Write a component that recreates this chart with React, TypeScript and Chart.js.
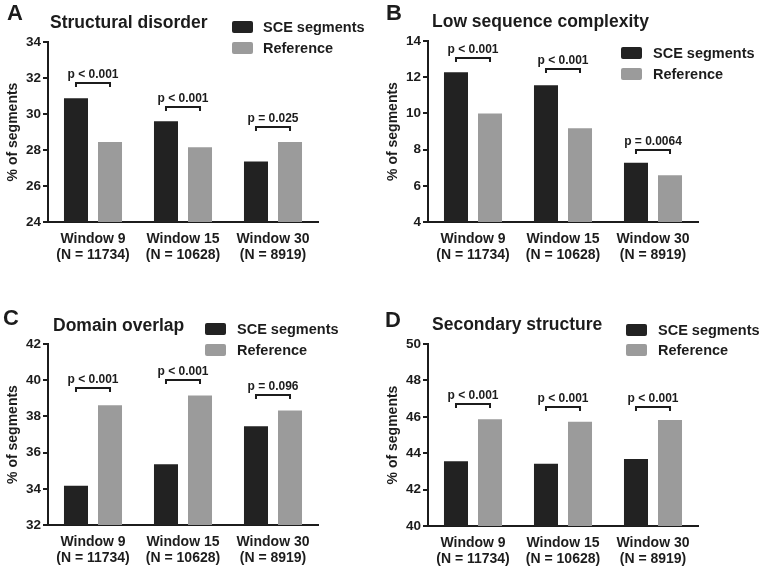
import React, { useEffect, useRef } from "react";
import { Chart, registerables } from "chart.js";

Chart.register(...registerables);

// ---------- data ----------
const categories = [
  ["Window 9", "(N = 11734)"],
  ["Window 15", "(N = 10628)"],
  ["Window 30", "(N = 8919)"],
];
const seriesNames = ["SCE segments", "Reference"];

const disorderSce = [30.87, 29.6, 27.36];
const disorderRef = [28.44, 28.15, 28.44];
const disorderP = ["p < 0.001", "p < 0.001", "p = 0.025"];
const disorderBracket = [31.72, 30.39, 29.28];

const complexitySce = [12.28, 11.55, 7.28];
const complexityRef = [10.0, 9.18, 6.58];
const complexityP = ["p < 0.001", "p < 0.001", "p = 0.0064"];
const complexityBracket = [13.08, 12.43, 7.97];

const domainSce = [34.17, 35.36, 37.45];
const domainRef = [38.62, 39.15, 38.32];
const domainP = ["p < 0.001", "p < 0.001", "p = 0.096"];
const domainBracket = [39.59, 40.02, 39.19];

const secondarySce = [43.56, 43.42, 43.68];
const secondaryRef = [45.86, 45.73, 45.82];
const secondaryP = ["p < 0.001", "p < 0.001", "p < 0.001"];
const secondaryBracket = [46.72, 46.54, 46.54];

// ---------- styles ----------
const FONT = '"Liberation Sans", Arial, Helvetica, sans-serif';
const DARK = "#222222";
const GRAY = "#9b9b9b";
const INK = "#1c1c1c";

type Panel = {
  letter: string;
  title: string;
  sce: number[];
  ref: number[];
  pLabels: string[];
  brackets: number[];
  yMin: number;
  yMax: number;
  box: { left: number; top: number; width: number; height: number };
  area: { left: number; right: number; top: number; bottom: number };
  letterPos: [number, number];
  titlePos: [number, number];
  legend: { x: number; y1: number; y2: number; tx: number };
};

const panels: Panel[] = [
  {
    letter: "A",
    title: "Structural disorder",
    sce: disorderSce,
    ref: disorderRef,
    pLabels: disorderP,
    brackets: disorderBracket,
    yMin: 24,
    yMax: 34,
    box: { left: 0, top: 0, width: 380, height: 283 },
    area: { left: 48, right: 318, top: 42, bottom: 222 },
    letterPos: [7, 20],
    titlePos: [50, 28],
    legend: { x: 232, y1: 21, y2: 42, tx: 263 },
  },
  {
    letter: "B",
    title: "Low sequence complexity",
    sce: complexitySce,
    ref: complexityRef,
    pLabels: complexityP,
    brackets: complexityBracket,
    yMin: 4,
    yMax: 14,
    box: { left: 380, top: 0, width: 385, height: 283 },
    area: { left: 48, right: 318, top: 41, bottom: 222 },
    letterPos: [6, 20],
    titlePos: [52, 27],
    legend: { x: 241, y1: 47, y2: 68, tx: 273 },
  },
  {
    letter: "C",
    title: "Domain overlap",
    sce: domainSce,
    ref: domainRef,
    pLabels: domainP,
    brackets: domainBracket,
    yMin: 32,
    yMax: 42,
    box: { left: 0, top: 283, width: 380, height: 284 },
    area: { left: 48, right: 318, top: 61, bottom: 242 },
    letterPos: [3, 42],
    titlePos: [53, 48],
    legend: { x: 205, y1: 40, y2: 61, tx: 237 },
  },
  {
    letter: "D",
    title: "Secondary structure",
    sce: secondarySce,
    ref: secondaryRef,
    pLabels: secondaryP,
    brackets: secondaryBracket,
    yMin: 40,
    yMax: 50,
    box: { left: 380, top: 283, width: 385, height: 284 },
    area: { left: 48, right: 318, top: 61, bottom: 243 },
    letterPos: [5, 44],
    titlePos: [52, 47],
    legend: { x: 246, y1: 41, y2: 61, tx: 278 },
  },
];

const decorPlugin = {
  id: "decor",
  afterDraw(chart: any, _args: any, opts: any) {
    const p: Panel = opts.panel;
    if (!p) return;
    const ctx = chart.ctx as CanvasRenderingContext2D;
    ctx.save();
    ctx.fillStyle = INK;
    ctx.textAlign = "left";
    ctx.textBaseline = "alphabetic";
    // panel letter
    ctx.font = `bold 22px ${FONT}`;
    ctx.fillText(p.letter, p.letterPos[0], p.letterPos[1]);
    // title
    ctx.font = `bold 17.5px ${FONT}`;
    ctx.fillText(p.title, p.titlePos[0], p.titlePos[1]);
    // legend
    const colors = [DARK, GRAY];
    const ys = [p.legend.y1, p.legend.y2];
    ctx.font = `bold 14.5px ${FONT}`;
    ctx.textBaseline = "middle";
    for (let i = 0; i < 2; i++) {
      ctx.fillStyle = colors[i];
      ctx.beginPath();
      if ((ctx as any).roundRect) (ctx as any).roundRect(p.legend.x, ys[i], 21, 12, 2);
      else ctx.rect(p.legend.x, ys[i], 21, 12);
      ctx.fill();
      ctx.fillStyle = INK;
      ctx.fillText(seriesNames[i], p.legend.tx, ys[i] + 6.5);
    }
    // significance brackets
    const m0 = chart.getDatasetMeta(0);
    const m1 = chart.getDatasetMeta(1);
    const yScale = chart.scales.y;
    ctx.strokeStyle = INK;
    ctx.lineWidth = 2;
    ctx.font = `bold 12px ${FONT}`;
    ctx.textAlign = "center";
    ctx.textBaseline = "alphabetic";
    for (let j = 0; j < p.brackets.length; j++) {
      const x1 = m0.data[j].x;
      const x2 = m1.data[j].x;
      const y = Math.round(yScale.getPixelForValue(p.brackets[j]));
      ctx.beginPath();
      ctx.moveTo(x1, y + 4);
      ctx.lineTo(x1, y);
      ctx.lineTo(x2, y);
      ctx.lineTo(x2, y + 4);
      ctx.stroke();
      ctx.fillText(p.pLabels[j], (x1 + x2) / 2, y - 5);
    }
    ctx.restore();
  },
};

function PanelChart({ panel }: { panel: Panel }) {
  const ref = useRef<HTMLCanvasElement | null>(null);
  useEffect(() => {
    if (!ref.current) return;
    const { box, area } = panel;
    const chart = new Chart(ref.current, {
      type: "bar",
      data: {
        labels: categories,
        datasets: [
          {
            label: seriesNames[0],
            data: panel.sce,
            backgroundColor: DARK,
            borderWidth: 0,
            barPercentage: 0.706,
            categoryPercentage: 0.756,
          },
          {
            label: seriesNames[1],
            data: panel.ref,
            backgroundColor: GRAY,
            borderWidth: 0,
            barPercentage: 0.706,
            categoryPercentage: 0.756,
          },
        ],
      },
      options: {
        responsive: false,
        animation: false,
        devicePixelRatio: 1,
        layout: {
          padding: { left: 0, top: area.top, right: box.width - area.right, bottom: 0 },
        },
        plugins: {
          legend: { display: false },
          tooltip: { enabled: false },
          title: { display: false },
          decor: { panel },
        } as any,
        scales: {
          x: {
            afterFit: (s: any) => {
              s.height = box.height - area.bottom;
            },
            grid: { display: false },
            border: { display: true, color: INK, width: 2 },
            ticks: {
              color: INK,
              font: { family: FONT, size: 14, weight: "bold", lineHeight: 1.08 },
              padding: 2,
              maxRotation: 0,
              autoSkip: false,
            },
          },
          y: {
            min: panel.yMin,
            max: panel.yMax,
            afterFit: (s: any) => {
              s.width = area.left;
            },
            border: { display: true, color: INK, width: 2 },
            grid: {
              drawOnChartArea: false,
              drawTicks: true,
              tickLength: 5,
              color: INK,
              lineWidth: 2,
            },
            ticks: {
              stepSize: 2,
              color: INK,
              font: { family: FONT, size: 13.5, weight: "bold" },
              padding: 2,
            },
            title: {
              display: true,
              text: "% of segments",
              color: INK,
              font: { family: FONT, size: 14, weight: "bold" },
              padding: { top: 5, bottom: 0 },
            },
          },
        },
      },
      plugins: [decorPlugin],
    });
    return () => chart.destroy();
  }, [panel]);
  const { box } = panel;
  return (
    <canvas
      ref={ref}
      width={box.width}
      height={box.height}
      style={{
        position: "absolute",
        left: box.left,
        top: box.top,
        width: box.width,
        height: box.height,
      }}
    />
  );
}

export default function App() {
  return (
    <div
      style={{
        position: "fixed",
        left: 0,
        top: 0,
        width: 765,
        height: 567,
        background: "#ffffff",
        overflow: "hidden",
      }}
    >
      {panels.map((p) => (
        <PanelChart key={p.letter} panel={p} />
      ))}
    </div>
  );
}
